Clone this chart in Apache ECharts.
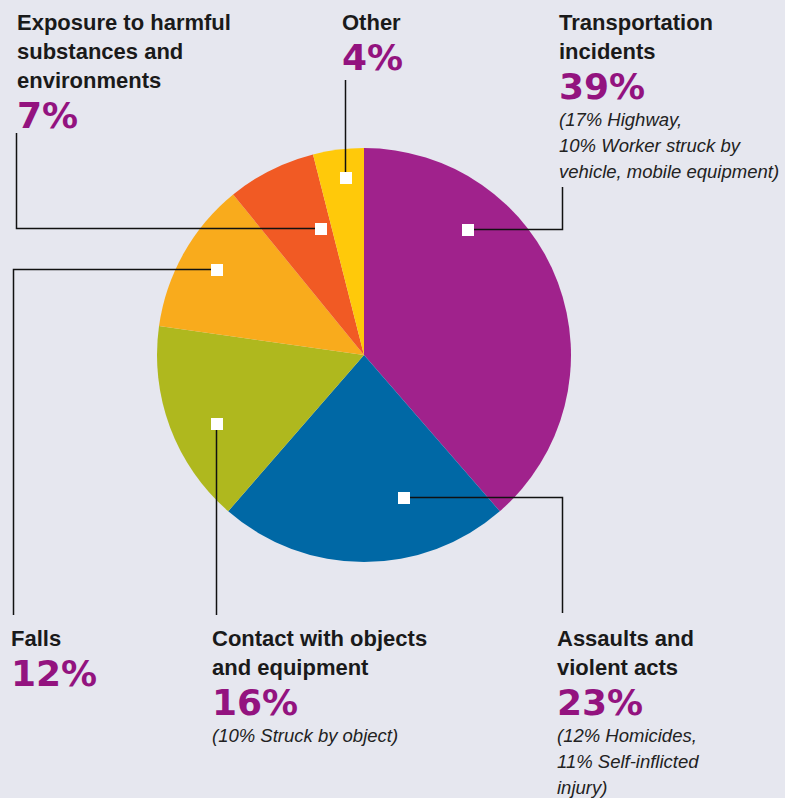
<!DOCTYPE html>
<html>
<head>
<meta charset="utf-8">
<script src="https://cdn.jsdelivr.net/npm/echarts@6/dist/echarts.min.js"></script>
<style>
html,body{margin:0;padding:0;background:#e6e7ef;}
#c{width:785px;height:798px;}
</style>
</head>
<body>
<div id="c"></div>
<script>
// ---- data ----
const categories = ['Transportation incidents', 'Assaults and violent acts', 'Contact with objects and equipment', 'Falls', 'Exposure to harmful substances and environments', 'Other'];
const shares = [39, 23, 16, 12, 7, 4];
const nameLines = [
  ['Transportation', 'incidents'],
  ['Assaults and', 'violent acts'],
  ['Contact with objects', 'and equipment'],
  ['Falls'],
  ['Exposure to harmful', 'substances and', 'environments'],
  ['Other']
];
const notes = [
  ['(17% Highway,', '10% Worker struck by', 'vehicle, mobile equipment)'],
  ['(12% Homicides,', '11% Self-inflicted', 'injury)'],
  ['(10% Struck by object)'],
  [], [], []
];
const colors = ['#a0228c', '#0068a5', '#afb81e', '#f9ab1c', '#f15a24', '#ffc90a'];

// ---- layout (not data) ----
const CENTER = [364, 355];
const RADIUS = 207;
// marker spot inside each slice: [angle clockwise from top (deg), fraction of radius]
const markerSpots = [[39.3, 0.786], [164.6, 0.71], [245.3, 0.787], [300.2, 0.827], [340.9, 0.65], [353.9, 0.865]];
// label block top-left and leader routing
const labelBoxes = [
  { x: 559, y: 8,   bendX: 562, endY: 187 },
  { x: 557, y: 624, bendX: 562, endY: 613 },
  { x: 212, y: 624, bendX: null, endY: 615 },
  { x: 11,  y: 624, bendX: 13,  endY: 615 },
  { x: 17,  y: 8,   bendX: 16,  endY: 133 },
  { x: 342, y: 8,   bendX: null, endY: 80 }
];

function markerXY(i) {
  const a = markerSpots[i][0] * Math.PI / 180;
  const r = markerSpots[i][1] * RADIUS;
  return [Math.round(CENTER[0] + r * Math.sin(a)) + 0.5, Math.round(CENTER[1] - r * Math.cos(a)) + 0.5];
}
function leaderPoints(i) {
  const b = labelBoxes[i];
  const m = markerXY(i);
  return b.bendX == null
    ? [m, [m[0], b.endY]]
    : [m, [b.bendX + 0.5, m[1]], [b.bendX + 0.5, b.endY]];
}

const chart = echarts.init(document.getElementById('c'), null, { renderer: 'svg' });

const data = categories.map((c, i) => ({ name: c, value: shares[i], itemStyle: { color: colors[i] } }));

const graphics = [];
categories.forEach((c, i) => {
  graphics.push({ type: 'polyline', z: 99, silent: true, shape: { points: leaderPoints(i) }, style: { stroke: '#111111', lineWidth: 1.5, fill: null } });
});
categories.forEach((c, i) => {
  const m = markerXY(i);
  graphics.push({ type: 'rect', z: 100, silent: true, shape: { x: Math.round(m[0] - 6), y: Math.round(m[1] - 6), width: 12, height: 12 }, style: { fill: '#ffffff' } });
});

const option = {
  backgroundColor: '#e6e7ef',
  animation: false,
  series: [{
    type: 'pie',
    center: CENTER,
    radius: RADIUS,
    startAngle: 90,
    clockwise: true,
    silent: true,
    avoidLabelOverlap: false,
    itemStyle: { borderWidth: 0 },
    emphasis: { disabled: true },
    data: data,
    label: {
      show: true,
      position: 'outside',
      formatter: function (p) {
        const i = p.dataIndex;
        let s = nameLines[i].map(t => '{n|' + t + '}').join('\n');
        s += '\n{p|' + shares[i] + '%}';
        if (notes[i].length) s += '\n' + notes[i].map(t => '{s|' + t + '}').join('\n');
        return s;
      },
      rich: {
        n: { fontFamily: 'Liberation Sans, Arial, sans-serif', fontWeight: 'bold', fontSize: 22, lineHeight: 29, color: '#1a1a1a' },
        p: { fontFamily: 'DejaVu Sans, sans-serif', fontWeight: 'bold', fontSize: 36, lineHeight: 40, color: '#93137f' },
        s: { fontFamily: 'Liberation Sans, Arial, sans-serif', fontStyle: 'italic', fontSize: 18.5, lineHeight: 26, color: '#222222' }
      }
    },
    labelLine: { show: false },
    labelLayout: function (p) {
      const b = labelBoxes[p.dataIndex];
      return { x: b.x, y: b.y, align: 'left', verticalAlign: 'top' };
    }
  }],
  graphic: graphics
};
chart.setOption(option);
</script>
</body>
</html>
